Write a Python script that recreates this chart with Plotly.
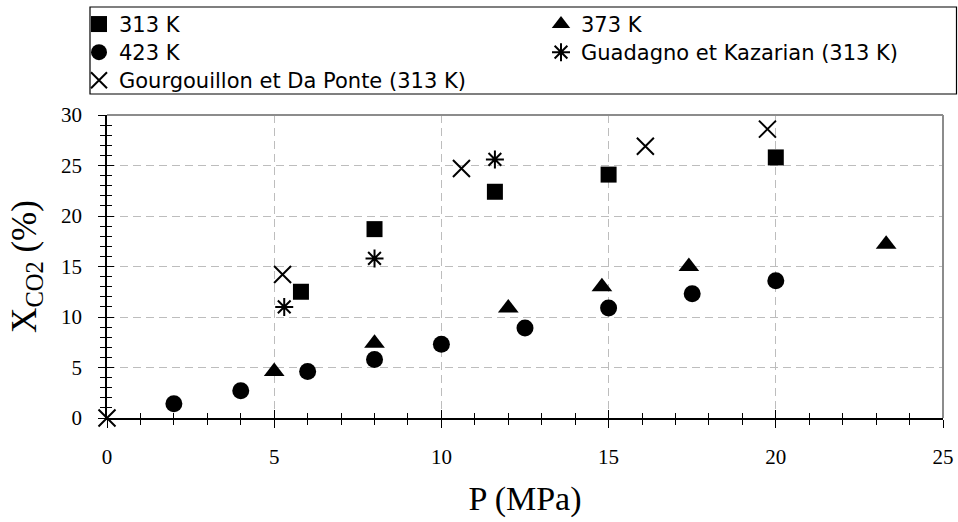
import plotly.graph_objects as go

# ---- data ----
p_313 = [5.8, 8.0, 11.6, 15.0, 20.0]
x_313 = [12.5, 18.7, 22.4, 24.1, 25.8]

p_373 = [5.0, 8.0, 12.0, 14.8, 17.4, 23.3]
x_373 = [4.6, 7.4, 10.9, 13.0, 15.0, 17.2]

p_423 = [2.0, 4.0, 6.0, 8.0, 10.0, 12.5, 15.0, 17.5, 20.0]
x_423 = [1.4, 2.7, 4.6, 5.8, 7.3, 8.9, 10.9, 12.3, 13.6]

p_gk = [5.3, 8.0, 11.6]
x_gk = [11.0, 15.8, 25.6]

p_gdp = [0.0, 5.25, 10.6, 16.1, 19.75]
x_gdp = [0.0, 14.2, 24.7, 26.9, 28.6]

names = ["313 K", "373 K", "423 K", "Guadagno et Kazarian (313 K)",
         "Gourgouillon et Da Ponte (313 K)"]

x_ticks = [0, 5, 10, 15, 20, 25]
y_ticks = [0, 5, 10, 15, 20, 25, 30]

serif = "Liberation Serif, Times New Roman, serif"
sans = "DejaVu Sans, Arial, sans-serif"


def leg(name):
    return '<span style="font-size:21px">' + name + '</span>'


fig = go.Figure()
fig.add_trace(go.Scatter(x=p_313, y=x_313, mode="markers", name=leg(names[0]),
                         marker=dict(symbol="square", size=16, color="black"),
                         cliponaxis=False))
fig.add_trace(go.Scatter(x=p_373, y=x_373, mode="markers", name=leg(names[1]),
                         marker=dict(symbol="triangle-up", size=18, color="black"),
                         cliponaxis=False))
fig.add_trace(go.Scatter(x=p_423, y=x_423, mode="markers", name=leg(names[2]),
                         marker=dict(symbol="circle", size=17, color="black"),
                         cliponaxis=False))
fig.add_trace(go.Scatter(x=p_gk, y=x_gk, mode="markers", name=leg(names[3]),
                         marker=dict(symbol="asterisk-open", size=15, color="black",
                                     line=dict(width=2, color="black")),
                         cliponaxis=False))
fig.add_trace(go.Scatter(x=p_gdp, y=x_gdp, mode="markers", name=leg(names[4]),
                         marker=dict(symbol="x-thin-open", size=17, color="black",
                                     line=dict(width=2, color="black")),
                         cliponaxis=False))
# empty trace to host the overlay axes that draw the inner half of the ticks
fig.add_trace(go.Scatter(x=[], y=[], xaxis="x2", yaxis="y2", showlegend=False,
                         hoverinfo="skip"))

L, R, T, B = 107, 15, 115, 104
W, H = 958, 522
pw, ph = W - L - R, H - T - B


def px_x(v):
    return (v - L) / pw


def px_y(v):
    return 1 - (v - T) / ph


grid = dict(showgrid=True, gridcolor="#bdbdbd", gridwidth=1, griddash="8px,5px")

fig.update_layout(
    width=W, height=H,
    margin=dict(l=L, r=R, t=T, b=B, autoexpand=False),
    paper_bgcolor="white", plot_bgcolor="white",
    font=dict(family=serif, color="black"),
    showlegend=True,
    legend=dict(
        orientation="h", x=px_x(79), y=px_y(5), xanchor="left", yanchor="top",
        entrywidth=417, entrywidthmode="pixels",
        font=dict(family=sans, size=19.3, color="black"),
        borderwidth=0, bgcolor="rgba(0,0,0,0)", traceorder="normal",
    ),
    xaxis=dict(
        range=[0, 25], tickvals=x_ticks, ticktext=[str(v) for v in x_ticks],
        showline=True, linecolor="black", linewidth=1.5, zeroline=False,
        ticks="outside", ticklen=8, tickwidth=1, tickcolor="black",
        minor=dict(dtick=1, tick0=0, ticks="outside", ticklen=5, tickcolor="black",
                   tickwidth=1, showgrid=False),
        tickfont=dict(family=serif, size=21, color="black"),
        ticklabelstandoff=11,
        title=dict(text="P (MPa)", font=dict(family=serif, size=34, color="black"),
                   standoff=18),
        automargin=False, **grid,
    ),
    yaxis=dict(
        range=[0, 30], tickvals=y_ticks, ticktext=[str(v) for v in y_ticks],
        showline=True, linecolor="black", linewidth=1.5, zeroline=False,
        ticks="outside", ticklen=7, tickwidth=1, tickcolor="black",
        minor=dict(dtick=1, tick0=0, ticks="outside", ticklen=5, tickcolor="black",
                   tickwidth=1, showgrid=False),
        tickfont=dict(family=serif, size=21, color="black"),
        ticklabelstandoff=12,
        title=dict(text="X<sub>CO2</sub> (%)", font=dict(family=serif, size=35, color="black"),
                   standoff=14),
        automargin=False, **grid,
    ),
    xaxis2=dict(
        range=[0, 25], overlaying="x", anchor="y2", side="bottom",
        tickvals=x_ticks, showticklabels=False, showgrid=False, zeroline=False,
        showline=False, ticks="inside", ticklen=8, tickwidth=1, tickcolor="black",
        minor=dict(dtick=1, tick0=0, ticks="inside", ticklen=5, tickcolor="black",
                   tickwidth=1, showgrid=False),
    ),
    yaxis2=dict(
        range=[0, 30], overlaying="y", anchor="x2", side="left",
        tickvals=y_ticks, showticklabels=False, showgrid=False, zeroline=False,
        showline=False, ticks="inside", ticklen=7, tickwidth=1, tickcolor="black",
        minor=dict(dtick=1, tick0=0, ticks="inside", ticklen=5, tickcolor="black",
                   tickwidth=1, showgrid=False),
    ),
    shapes=[
        # top and right frame of the plot area (grey)
        dict(type="line", xref="paper", yref="paper", x0=0, x1=1, y0=1, y1=1,
             line=dict(color="#8c8c8c", width=2), layer="above"),
        dict(type="line", xref="paper", yref="paper", x0=1, x1=1, y0=0, y1=1,
             line=dict(color="#8c8c8c", width=2), layer="above"),
        # legend frame
        dict(type="rect", xref="paper", yref="paper",
             x0=px_x(90), x1=px_x(956.5), y0=px_y(94), y1=px_y(7),
             line=dict(color="black", width=1.2), fillcolor="rgba(0,0,0,0)"),
    ],
)

fig.write_html("out.html")
